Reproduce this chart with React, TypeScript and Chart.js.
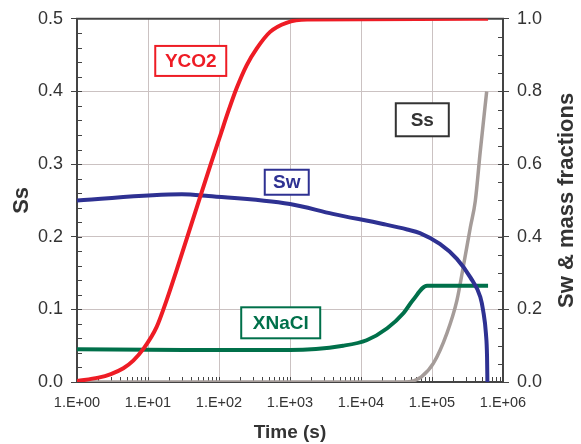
import React, { useEffect, useRef } from 'react';
import { Chart, registerables } from 'chart.js';

Chart.register(...registerables);

// ---- data (time in seconds) ----
const yco2Time = [1, 2, 3, 4.5, 6.2, 8.6, 13.2, 18.2, 25.1, 43.6, 75.9, 104.7, 135, 178, 245, 339, 525, 891, 1738, 616000];
const yco2Values = [0.003, 0.012, 0.022, 0.038, 0.059, 0.091, 0.151, 0.224, 0.306, 0.452, 0.598, 0.68, 0.745, 0.81, 0.872, 0.918, 0.964, 0.989, 0.998, 1.0];

const swTime = [1, 30, 71, 1000, 4000, 20400, 44700, 67600, 129000, 224000, 347000, 479000, 525000, 575000, 596000, 603000];
const swValues = [0.5, 0.517, 0.512, 0.49, 0.463, 0.435, 0.42, 0.41, 0.38, 0.339, 0.288, 0.234, 0.197, 0.133, 0.07, 0.0];

const xnaclTime = [1, 32, 1000, 5600, 12000, 23400, 39800, 53700, 85100, 616000];
const xnaclValues = [0.09, 0.088, 0.088, 0.1, 0.115, 0.148, 0.19, 0.225, 0.265, 0.265];

const ssTime = [1, 39800, 56200, 70800, 105000, 162000, 224000, 275000, 347000, 407000, 479000, 589000];
const ssValues = [0, 0, 0.002, 0.007, 0.026, 0.067, 0.112, 0.158, 0.213, 0.249, 0.318, 0.4];

const xTickValues = [1, 10, 100, 1000, 10000, 100000, 1000000];
const xTickLabels = ['1.E+00', '1.E+01', '1.E+02', '1.E+03', '1.E+04', '1.E+05', '1.E+06'];

const leftTitle = 'Ss';
const rightTitle = 'Sw & mass fractions';

// label boxes (positions in data coords: time, left-axis value)
const labelTexts = ['YCO2', 'Sw', 'XNaCl', 'Ss'];
const labelTimes = [40, 900, 740, 73000];
const labelValues = [0.442, 0.275, 0.0815, 0.361];
const labelColors = ['#ee1c25', '#2e3192', '#00704a', '#333333'];
const labelBoxW = [71, 44, 79, 53];
const labelBoxH = [30, 25, 31, 33];

const FONT = "'Liberation Sans', Arial, sans-serif";
const AXIS = '#444444';
const GRID = '#cbc2c2';
const TEXT = '#333333';

const pts = (t: number[], v: number[]) => t.map((x, i) => ({ x, y: v[i] }));

const decorPlugin = {
  id: 'decor',
  beforeDatasetsDraw(chart: any) {
    const { ctx, chartArea, scales } = chart;
    const { left, right, top, bottom } = chartArea;
    ctx.save();
    ctx.strokeStyle = AXIS;
    ctx.lineWidth = 1;
    ctx.beginPath();
    for (let d = 0; d < 6; d++) {
      for (let k = 1; k <= 9; k++) {
        if (d === 0 && k === 1) continue;
        const px = Math.round(scales.x.getPixelForValue(k * Math.pow(10, d))) + 0.5;
        ctx.moveTo(px, bottom);
        ctx.lineTo(px, bottom - 5);
      }
    }
    for (let i = 1; i < 25; i++) {
      const py = Math.round(scales.y.getPixelForValue(i * 0.02)) + 0.5;
      ctx.moveTo(left, py);
      ctx.lineTo(left + 5, py);
    }
    for (let i = 1; i < 20; i++) {
      const py = Math.round(scales.y1.getPixelForValue(i * 0.05)) + 0.5;
      ctx.moveTo(right, py);
      ctx.lineTo(right - 5, py);
    }
    ctx.stroke();
    ctx.lineWidth = 2;
    ctx.beginPath();
    ctx.moveTo(left - 1, top);
    ctx.lineTo(right + 1, top);
    ctx.stroke();

    // axis titles (both read bottom-to-top)
    const cy = (top + bottom) / 2;
    ctx.fillStyle = TEXT;
    ctx.font = `bold 22px ${FONT}`;
    ctx.textAlign = 'center';
    ctx.textBaseline = 'middle';
    [
      [22, leftTitle],
      [567, rightTitle],
    ].forEach(([x, t]: any) => {
      ctx.save();
      ctx.translate(x, cy);
      ctx.rotate(-Math.PI / 2);
      ctx.fillText(t, 0, 0);
      ctx.restore();
    });
    ctx.restore();
  },
  afterDatasetsDraw(chart: any) {
    const { ctx, scales } = chart;
    ctx.save();
    labelTexts.forEach((txt, i) => {
      const cx = scales.x.getPixelForValue(labelTimes[i]);
      const cy = scales.y.getPixelForValue(labelValues[i]);
      const w = labelBoxW[i];
      const h = labelBoxH[i];
      ctx.fillStyle = '#ffffff';
      ctx.fillRect(cx - w / 2, cy - h / 2, w, h);
      ctx.strokeStyle = labelColors[i];
      ctx.lineWidth = 2;
      ctx.strokeRect(cx - w / 2, cy - h / 2, w, h);
      ctx.fillStyle = labelColors[i];
      ctx.font = `bold 19px ${FONT}`;
      ctx.textAlign = 'center';
      ctx.textBaseline = 'middle';
      ctx.fillText(txt, cx, cy + 1);
    });
    ctx.restore();
  },
};

export default function App() {
  const ref = useRef<HTMLCanvasElement>(null);
  useEffect(() => {
    document.body.style.margin = '0';
    const canvas = ref.current;
    if (!canvas) return;
    const chart = new Chart(canvas, {
      type: 'line',
      data: {
        datasets: [
          {
            label: 'YCO2',
            data: pts(yco2Time, yco2Values),
            yAxisID: 'y1',
            borderColor: '#ee1c25',
            borderWidth: 4,
            pointRadius: 0,
            cubicInterpolationMode: 'monotone',
            order: 0,
          },
          {
            label: 'Sw',
            data: pts(swTime, swValues),
            yAxisID: 'y1',
            borderColor: '#2e3192',
            borderWidth: 4,
            pointRadius: 0,
            cubicInterpolationMode: 'monotone',
            order: 1,
          },
          {
            label: 'XNaCl',
            data: pts(xnaclTime, xnaclValues),
            yAxisID: 'y1',
            borderColor: '#00704a',
            borderWidth: 4,
            pointRadius: 0,
            cubicInterpolationMode: 'monotone',
            order: 2,
          },
          {
            label: 'Ss',
            data: pts(ssTime, ssValues),
            yAxisID: 'y',
            borderColor: '#a59c99',
            borderWidth: 3.5,
            pointRadius: 0,
            cubicInterpolationMode: 'monotone',
            order: 3,
          },
        ],
      } as any,
      options: {
        animation: false,
        responsive: false,
        maintainAspectRatio: false,
        layout: { padding: { top: 17, left: 0, right: 0, bottom: 0 } },
        plugins: { legend: { display: false }, tooltip: { enabled: false } },
        scales: {
          x: {
            type: 'logarithmic',
            position: 'bottom',
            min: 1,
            max: 1000000,
            afterBuildTicks: (s: any) => {
              s.ticks = xTickValues.map((v) => ({ value: v, major: true }));
            },
            afterFit: (s: any) => {
              s.height = 62;
            },
            ticks: {
              autoSkip: false,
              maxRotation: 0,
              padding: 12,
              color: TEXT,
              font: { family: FONT, size: 14.5 },
              callback: (_v: any, i: number) => xTickLabels[i],
            },
            grid: { color: GRID, lineWidth: 1, drawTicks: false },
            border: { display: true, color: AXIS, width: 2 },
            title: {
              display: true,
              text: 'Time (s)',
              color: TEXT,
              font: { family: FONT, size: 19, weight: 'bold' },
              padding: { top: 0, bottom: 0 },
            },
          },
          y: {
            type: 'linear',
            position: 'left',
            min: 0,
            max: 0.5,
            afterFit: (s: any) => {
              s.width = 77;
            },
            ticks: {
              stepSize: 0.1,
              padding: 8,
              color: TEXT,
              font: { family: FONT, size: 18 },
              callback: (v: any) => Number(v).toFixed(1),
            },
            grid: { color: GRID, lineWidth: 1, tickColor: AXIS, tickLength: 6, drawTicks: true },
            border: { display: true, color: AXIS, width: 2 },
          },
          y1: {
            type: 'linear',
            position: 'right',
            min: 0,
            max: 1,
            afterFit: (s: any) => {
              s.width = 78;
            },
            ticks: {
              stepSize: 0.2,
              padding: 8,
              color: TEXT,
              font: { family: FONT, size: 18 },
              callback: (v: any) => Number(v).toFixed(1),
            },
            grid: { drawOnChartArea: false, tickColor: AXIS, tickLength: 6, drawTicks: true },
            border: { display: true, color: AXIS, width: 2 },
          },
        },
      } as any,
      plugins: [decorPlugin],
    });
    return () => chart.destroy();
  }, []);
  return <canvas ref={ref} width={581} height={444} style={{ display: 'block' }} />;
}
